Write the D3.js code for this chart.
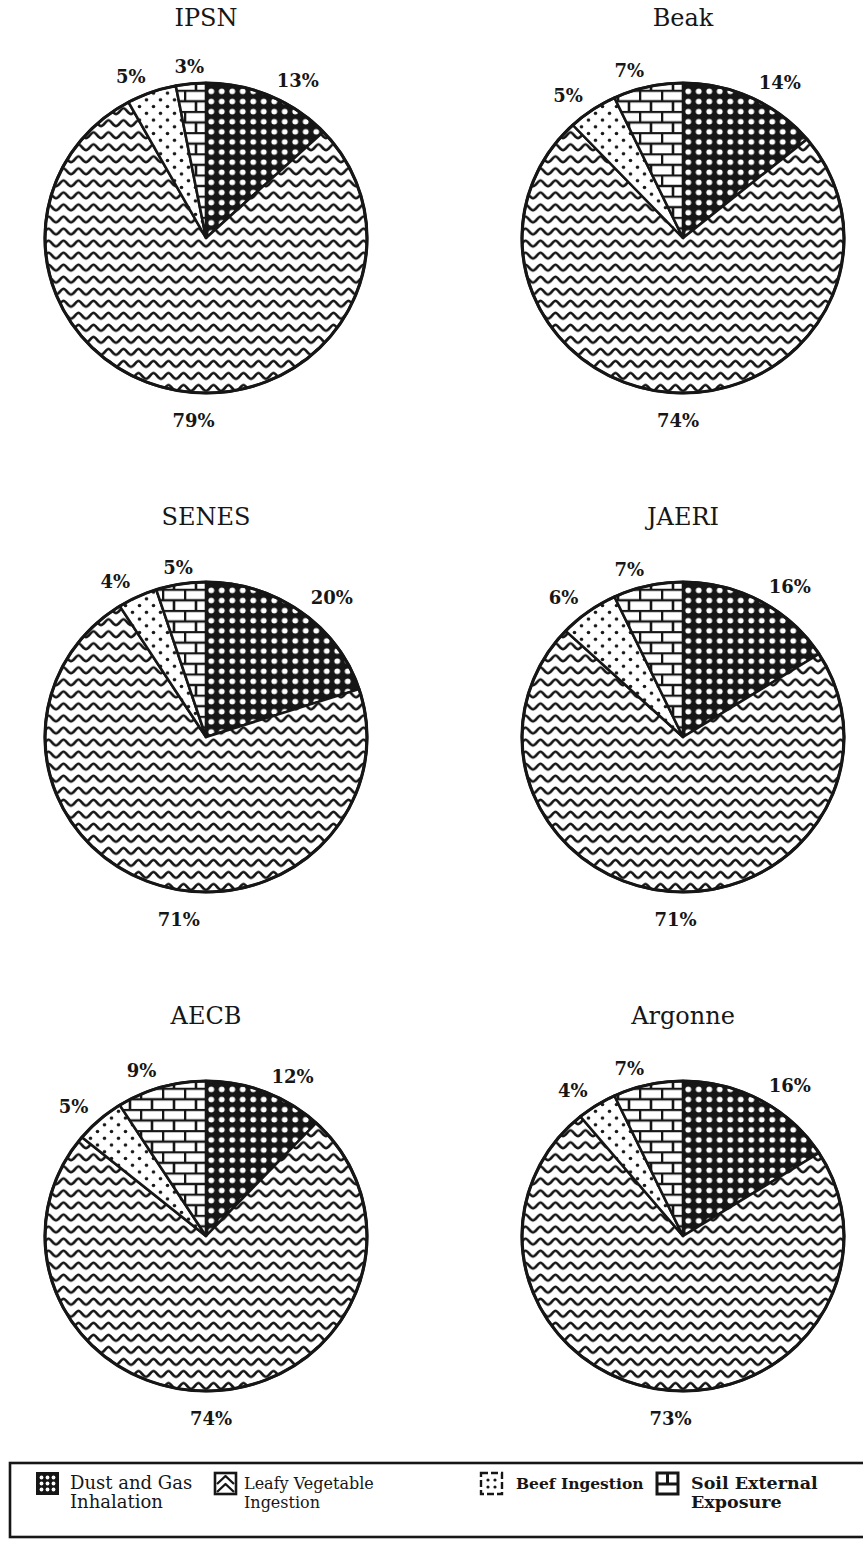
<!DOCTYPE html>
<html>
<head>
<meta charset="utf-8">
<script src="https://cdn.jsdelivr.net/npm/d3@7"></script>
<style>
  html, body { margin: 0; padding: 0; background: #fff; }
  svg { display: block; }
</style>
</head>
<body>
<div id="chart"></div>
<script>
// ---------------- data ----------------
const models = ["IPSN", "Beak", "SENES", "JAERI", "AECB", "Argonne"];
const categories = ["Dust and Gas Inhalation", "Leafy Vegetable Ingestion", "Beef Ingestion", "Soil External Exposure"];
const dustGas = [13, 14, 20, 16, 12, 16];
const leafyVeg = [79, 74, 71, 71, 74, 73];
const beefIng = [5, 5, 4, 6, 5, 4];
const soilExt = [3, 7, 5, 7, 9, 7];
const legendLines = [["Dust and Gas", "Inhalation"], ["Leafy Vegetable", "Ingestion"], ["Beef Ingestion"], ["Soil External", "Exposure"]];

// ---------------- layout ----------------
const W = 863, H = 1542;
const INK = "#161616";
const RX = 161, RY = 155;
const serif = "'DejaVu Serif', 'Liberation Serif', serif";

const svg = d3.select("#chart").append("svg").attr("width", W).attr("height", H);
svg.append("rect").attr("width", W).attr("height", H).attr("fill", "#fff");

const defs = svg.append("defs");
const patIds = ["pDust", "pLeafy", "pBeef", "pSoil"];

// Dust: black ground with white dots
{
  const p = defs.append("pattern").attr("id", "pDust").attr("patternUnits", "userSpaceOnUse")
    .attr("width", 10.5).attr("height", 10.5);
  p.append("rect").attr("width", 10.5).attr("height", 10.5).attr("fill", INK);
  p.append("circle").attr("cx", 5.25).attr("cy", 5.25).attr("r", 2.9).attr("fill", "#fff");
}
// Leafy: wavy lines
{
  const p = defs.append("pattern").attr("id", "pLeafy").attr("patternUnits", "userSpaceOnUse")
    .attr("width", 15).attr("height", 12.5);
  p.append("rect").attr("width", 15).attr("height", 12.5).attr("fill", "#fff");
  p.append("path").attr("d", "M-7.5,2.8 C-5,2.8 -2.8,8.8 0,8.8 C2.8,8.8 5,2.8 7.5,2.8 C10,2.8 12.2,8.8 15,8.8 C17.8,8.8 20,2.8 22.5,2.8")
    .attr("fill", "none").attr("stroke", INK).attr("stroke-width", 2.7)
    .attr("stroke-linejoin", "round").attr("stroke-linecap", "round");
}
// Beef: sparse black dots
{
  const p = defs.append("pattern").attr("id", "pBeef").attr("patternUnits", "userSpaceOnUse")
    .attr("width", 14).attr("height", 14);
  p.append("rect").attr("width", 14).attr("height", 14).attr("fill", "#fff");
  p.append("circle").attr("cx", 3.5).attr("cy", 3.5).attr("r", 1.8).attr("fill", INK);
  p.append("circle").attr("cx", 10.5).attr("cy", 10.5).attr("r", 1.8).attr("fill", INK);
}
// Soil: bricks
{
  const p = defs.append("pattern").attr("id", "pSoil").attr("patternUnits", "userSpaceOnUse")
    .attr("width", 22).attr("height", 22);
  p.append("rect").attr("width", 22).attr("height", 22).attr("fill", "#fff");
  p.append("path").attr("d", "M0,1 H22 M0,12 H22 M1,0 V12 M12,12 V22")
    .attr("fill", "none").attr("stroke", INK).attr("stroke-width", 2.6);
}

const colX = d3.scalePoint().domain([0, 1]).range([206, 683]);
const rowY = d3.scalePoint().domain([0, 1, 2]).range([238, 1236]);

const pie = d3.pie().sort(null).value(d => d.value);
const arc = d3.arc().innerRadius(0).outerRadius(RX);

models.forEach((name, i) => {
  const data = [dustGas[i], leafyVeg[i], beefIng[i], soilExt[i]].map((v, k) => ({ value: v, k }));
  const cx = colX(i % 2), cy = rowY(Math.floor(i / 2));
  const g = svg.append("g").attr("transform", `translate(${cx},${cy})`);

  g.append("text").attr("x", 0).attr("y", -212)
    .attr("text-anchor", "middle").attr("font-family", serif).attr("font-size", 24)
    .attr("fill", INK).text(name);

  const arcs = pie(data);
  const pg = g.append("g").attr("transform", `scale(1,${RY / RX})`);
  pg.selectAll("path.slice").data(arcs).join("path")
    .attr("class", "slice")
    .attr("d", arc)
    .attr("fill", d => `url(#${patIds[d.data.k]})`)
    .attr("stroke", INK).attr("stroke-width", 2.6).attr("stroke-linejoin", "round");
  pg.append("ellipse").attr("rx", RX).attr("ry", RX).attr("fill", "none")
    .attr("stroke", INK).attr("stroke-width", 3.2);

  const LO = 17;
  g.selectAll("text.lbl").data(arcs).join("text")
    .attr("class", "lbl")
    .each(function (d) {
      const a = (d.startAngle + d.endAngle) / 2;
      const s = Math.sin(a), c = Math.cos(a);
      let x, y, anchor;
      if (c < -0.8) {           // large bottom slice: label centred below the pie
        x = s * (RX + LO) * 0.45;
        y = RY + 27;
        anchor = "middle";
      } else {
        x = s * (RX + LO);
        y = -c * (RY + LO);
        anchor = s > 0.2 ? "start" : (s < -0.2 ? "end" : "middle");
      }
      d3.select(this).attr("x", x).attr("y", y).attr("text-anchor", anchor);
    })
    .attr("dominant-baseline", "central")
    .attr("font-family", serif).attr("font-size", 18).attr("font-weight", "bold")
    .attr("fill", INK)
    .text(d => d.data.value + "%");
});

// ---------------- legend ----------------
const lg = svg.append("g");
lg.append("rect").attr("x", 10).attr("y", 1463).attr("width", 880).attr("height", 74)
  .attr("fill", "#fff").attr("stroke", INK).attr("stroke-width", 2.6);

const itemX = [37, 215, 481, 657];
const textX = [70, 244, 516, 691];
const fontSz = [18, 16, 15.5, 17.5];
const fontWt = ["normal", "normal", "bold", "bold"];
const iconY = 1473, iconS = 21;

categories.forEach((cat, k) => {
  const ig = lg.append("g").attr("transform", `translate(${itemX[k]},${iconY})`);
  if (k === 0) {
    ig.append("rect").attr("width", iconS).attr("height", iconS).attr("fill", INK).attr("stroke", INK).attr("stroke-width", 2);
    for (let r = 0; r < 3; r++) for (let c = 0; c < 3; c++)
      ig.append("circle").attr("cx", 4.5 + c * 6).attr("cy", 4.5 + r * 6).attr("r", 1.9).attr("fill", "#fff");
  } else if (k === 1) {
    ig.append("rect").attr("width", iconS).attr("height", iconS).attr("fill", "#fff").attr("stroke", INK).attr("stroke-width", 2.6);
    ig.append("path").attr("d", "M2,11 L10.5,3 L19,11 M2,19 L10.5,11 L19,19").attr("fill", "none")
      .attr("stroke", INK).attr("stroke-width", 2.4).attr("stroke-linejoin", "round");
  } else if (k === 2) {
    ig.append("rect").attr("width", iconS).attr("height", iconS).attr("fill", "#fff").attr("stroke", INK)
      .attr("stroke-width", 2.4).attr("stroke-dasharray", "7 3");
    [[7, 7], [14, 7], [7, 14], [14, 14]].forEach(([x, y]) =>
      ig.append("circle").attr("cx", x).attr("cy", y).attr("r", 1.6).attr("fill", INK));
  } else {
    ig.append("rect").attr("width", iconS).attr("height", iconS).attr("fill", "#fff").attr("stroke", INK).attr("stroke-width", 3);
    ig.append("path").attr("d", `M0,11 H${iconS} M10.5,0 V11`).attr("stroke", INK).attr("stroke-width", 3);
  }
  const t = lg.append("text").attr("x", textX[k]).attr("y", 1489)
    .attr("font-family", serif).attr("font-size", fontSz[k]).attr("font-weight", fontWt[k]).attr("fill", INK);
  legendLines[k].forEach((ln, j) => {
    t.append("tspan").attr("x", textX[k]).attr("dy", j === 0 ? 0 : 19).text(ln);
  });
});
</script>
</body>
</html>
